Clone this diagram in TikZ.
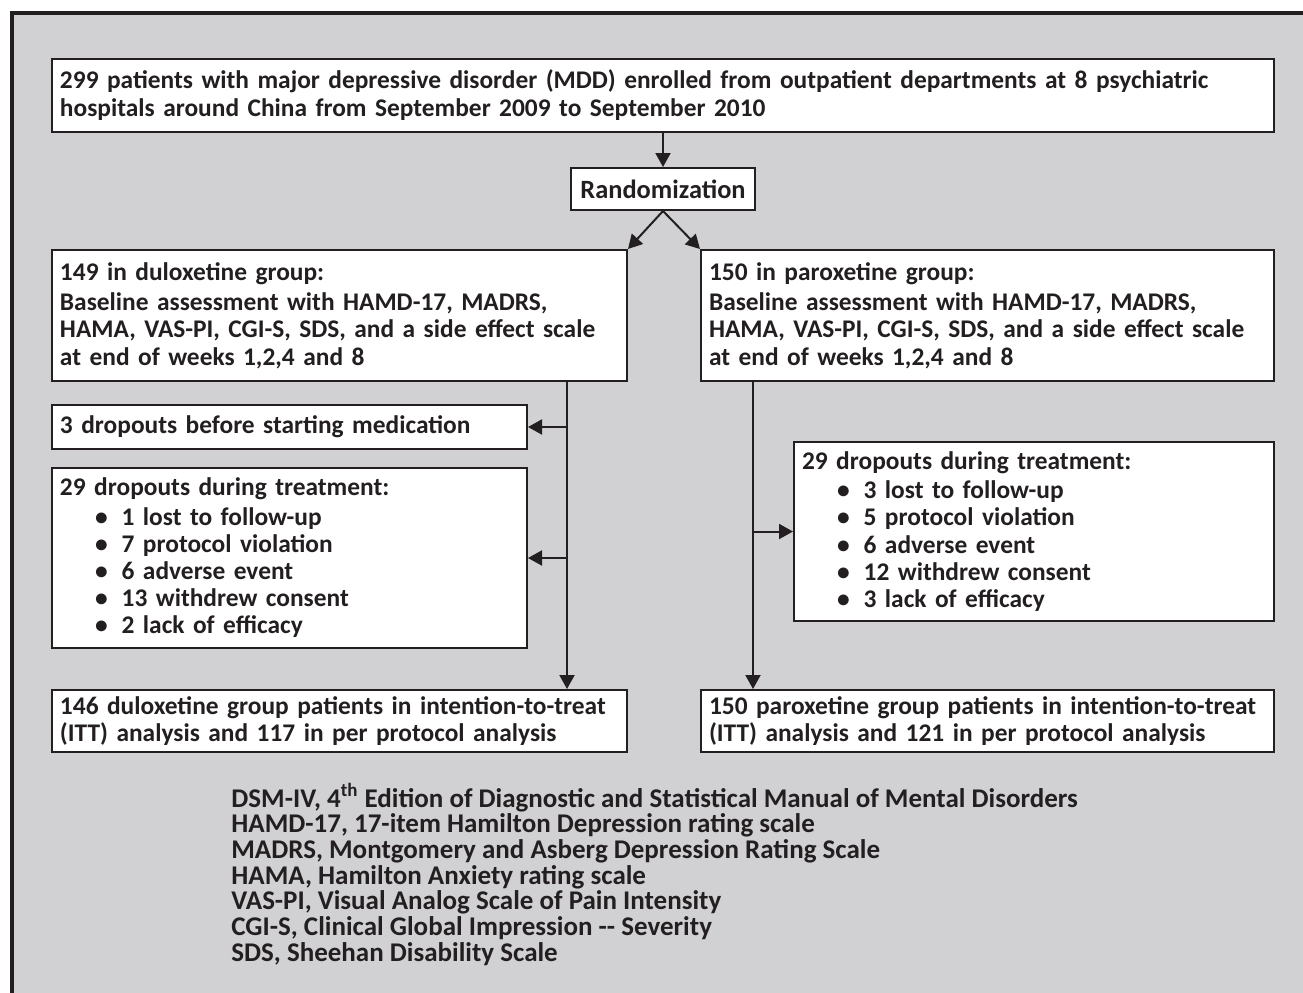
\documentclass[tikz,border=0pt]{standalone}
\usepackage{fontspec}
\setmainfont{Carlito}
\usetikzlibrary{arrows.meta}
\definecolor{ink}{HTML}{231F20}
\definecolor{panel}{HTML}{D1D1D3}
\tikzset{box/.style={draw=ink,fill=white,line width=1pt,align=left,inner xsep=4pt,inner ysep=2pt,text=ink,font=\bfseries\fontsize{12.7}{13.6}\selectfont},
         arr/.style={draw=ink,line width=1pt,-{Triangle[length=7pt,width=7.5pt]}}}
\newcommand{\itm}[1]{\hspace*{17.5pt}\textbullet\hspace{7pt}#1}

\begin{document}
\begin{tikzpicture}[x=0.5pt,y=-0.5pt]
        \useasboundingbox (0,0) rectangle (1303,992);
        \clip (0,0) rectangle (1303,992);
        \draw[ink,line width=2pt,fill=panel] (12,13) rectangle (1330,1020);

        \node[box,text width=603pt,minimum height=36.5pt] (enrol) at (663,95) {299 patients with major depressive disorder (MDD) enrolled from outpatient departments at 8 psychiatric\\ hospitals around China from September 2009 to September 2010};
        \node[box,align=center,minimum width=92pt,minimum height=21pt,font=\bfseries\fontsize{13.2}{14}\selectfont] (rand) at (663,189) {Randomization};

        \node[box,text width=279.5pt,minimum height=65.5pt] (dulox) at (339.5,315.5) {149 in duloxetine group:\\[1.5pt] Baseline assessment with HAMD-17, MADRS,\\ HAMA, VAS-PI, CGI-S, SDS, and a side effect scale\\ at end of weeks 1,2,4 and 8};
        \node[box,text width=278.5pt,minimum height=65.5pt] (parox) at (987.5,315.5) {150 in paroxetine group:\\[1.5pt] Baseline assessment with HAMD-17, MADRS,\\ HAMA, VAS-PI, CGI-S, SDS, and a side effect scale\\ at end of weeks 1,2,4 and 8};

        \node[box,text width=229.5pt,minimum height=22pt] (pre) at (289.5,427) {3 dropouts before starting medication};
        \node[box,text width=229.5pt,minimum height=90pt] (dropL) at (289.5,558) {29 dropouts during treatment:\\[1pt] \itm{1 lost to follow-up}\\ \itm{7 protocol violation}\\ \itm{6 adverse event}\\ \itm{13 withdrew consent}\\ \itm{2 lack of efficacy}};
        \node[box,text width=232pt,minimum height=89.5pt] (dropR) at (1034,531.5) {29 dropouts during treatment:\\[1pt] \itm{3 lost to follow-up}\\ \itm{5 protocol violation}\\ \itm{6 adverse event}\\ \itm{12 withdrew consent}\\ \itm{3 lack of efficacy}};

        \node[box,text width=279.5pt,minimum height=31pt] (ittL) at (339.5,721) {146 duloxetine group patients in intention-to-treat\\ (ITT) analysis and 117 in per protocol analysis};
        \node[box,text width=278.5pt,minimum height=31pt] (ittR) at (987.5,721) {150 paroxetine group patients in intention-to-treat\\ (ITT) analysis and 121 in per protocol analysis};

        \node[anchor=north west,align=left,inner sep=0pt,text=ink,font=\bfseries\fontsize{13.5}{12.85}\selectfont] (legend) at (231,783) {DSM-IV, 4\textsuperscript{th} Edition of Diagnostic and Statistical Manual of Mental Disorders\\ HAMD-17, 17-item Hamilton Depression rating scale\\ MADRS, Montgomery and Asberg Depression Rating Scale\\ HAMA, Hamilton Anxiety rating scale\\ VAS-PI, Visual Analog Scale of Pain Intensity\\ CGI-S, Clinical Global Impression -{}- Severity\\ SDS, Sheehan Disability Scale};

        \coordinate (dl) at (567,381);
        \coordinate (pl) at (753,381);

        \draw[arr] (enrol.south) -- (rand.north);
        \draw[arr] (rand.south) -- (dulox.north east);
        \draw[arr] (rand.south) -- (parox.north west);
        \draw[arr] (dl) -- (dl |- ittL.north);
        \draw[arr] (pl) -- (pl |- ittR.north);
        \draw[arr] (dl |- pre.east) -- (pre.east);
        \draw[arr] (dl |- dropL.east) -- (dropL.east);
        \draw[arr] (pl |- dropR.west) -- (dropR.west);
\end{tikzpicture}
\end{document}
